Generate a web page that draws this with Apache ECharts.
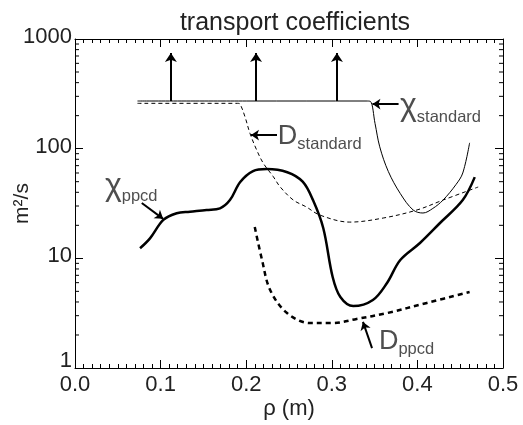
<!DOCTYPE html>
<html>
<head>
<meta charset="utf-8">
<script src="https://cdn.jsdelivr.net/npm/echarts@6/dist/echarts.min.js"></script>
<style>
html,body{margin:0;padding:0;background:#fff;}
#chart{width:523px;height:425px;}
</style>
</head>
<body>
<div id="chart"></div>
<script>
// ---- data (rho in m, coefficient in m^2/s) ----
const xTicks = [0, 0.1, 0.2, 0.3, 0.4, 0.5];
const yTicks = [1, 10, 100, 1000];
const yMinorTicks = [2,3,4,5,6,7,8,9,20,30,40,50,60,70,80,90,200,300,400,500,600,700,800,900];

const chiStandard = [
  [0.073,272],[0.2,272],[0.34,272],[0.345,270],[0.3505,170],[0.356,104],[0.366,62],
  [0.38,39],[0.395,27.6],[0.4065,25.9],[0.418,28.5],[0.43,34],[0.445,47],[0.453,60],[0.461,113]
];
const dStandard = [
  [0.073,259],[0.15,259],[0.19,259],[0.1928,255],[0.1986,195],[0.2044,138],[0.2123,97],
  [0.22,73.6],[0.2317,55.5],[0.2395,45],[0.255,34],[0.27,29.5],[0.286,24.8],[0.321,21.4],
  [0.36,23.3],[0.3995,27.6],[0.43,34],[0.471,44.7]
];
const chiPpcd = [
  [0.076,12.35],[0.0876,15.2],[0.1032,22.4],[0.1188,25.8],[0.1343,26.6],[0.1538,27.6],[0.1694,28.6],[0.181,34],
  [0.193,49.7],[0.208,62.5],[0.224,65.3],[0.248,61],[0.266,50],[0.278,34],[0.29,18.9],
  [0.301,6.76],[0.31,4.44],[0.325,3.67],[0.348,4.17],[0.3645,5.96],[0.38,9.66],
  [0.403,13.8],[0.4264,21],[0.453,34],[0.467,55]
];
const dPpcd = [
  [0.21,19.3],[0.2185,9.66],[0.228,5.14],[0.2477,3.17],[0.2745,2.57],[0.301,2.57],
  [0.329,2.8],[0.3645,3.17],[0.411,3.92],[0.461,4.93]
];
// vertical arrows above chi_standard (rho, from, to)
const upArrows = [
  [0.112, 272, 745],[0.2115, 272, 745],[0.306, 272, 745]
];
// annotation pointers: [tailRho, tailVal, tipRho, tipVal]
const pointers = [
  [0.378, 255, 0.3475, 255],
  [0.236, 133, 0.2056, 133],
  [0.078, 32, 0.103, 22.9],
  [0.347, 1.52, 0.3364, 2.63]
];
// annotation labels: [rho, value, main, subscript]
const labels = [
  [0.3797, 235, 'χ', 'standard'],
  [0.237, 125, 'D', 'standard'],
  [0.035, 44.5, 'χ', 'ppcd'],
  [0.355, 1.69, 'D', 'ppcd']
];

const FONT = 'Liberation Sans, Arial, Helvetica, sans-serif';
const TXT = '#222';

const chart = echarts.init(document.getElementById('chart'), null, {renderer:'canvas'});

const axX = (pos, showLabel) => ({
  type:'value', position:pos, min:0, max:0.5, interval:0.1,
  axisLine:{show:true, onZero:false, lineStyle:{color:'#000', width:1}},
  axisTick:{show:true, inside:true, length:8, lineStyle:{color:'#000', width:1}},
  minorTick:{show:true, splitNumber:10, length:4, lineStyle:{color:'#000', width:1}},
  splitLine:{show:false},
  axisLabel:{show:showLabel, margin:6, fontSize:22, color:TXT, fontFamily:FONT,
    formatter:v=>v.toFixed(1)},
  name: showLabel ? 'ρ (m)' : '', nameLocation:'middle', nameGap:30, nameMoveOverlap:false,
  nameTextStyle:{fontSize:22, color:TXT, fontFamily:FONT}
});
const axY = (pos, showLabel) => ({
  type:'log', logBase:10, position:pos, min:1, max:1000,
  axisLine:{show:true, onZero:false, lineStyle:{color:'#000', width:1}},
  axisTick:{show:true, inside:true, length:8, lineStyle:{color:'#000', width:1}},
  minorTick:{show:false},
  splitLine:{show:false},
  axisLabel:{show:showLabel, margin:3, fontSize:22, color:TXT, fontFamily:FONT,
    formatter:v=> (v===1 ? '{lo|1}' : '{n|'+v+'}'),
    rich:{n:{fontSize:22, color:TXT, fontFamily:FONT, padding:[0,0,4,0]},
          lo:{fontSize:22, color:TXT, fontFamily:FONT, padding:[0,0,14,0]}}},
  name: showLabel ? 'm²/s' : '', nameLocation:'middle', nameGap:42, nameRotate:90,
  nameMoveOverlap:false,
  nameTextStyle:{fontSize:21, color:TXT, fontFamily:FONT}
});

const richLabel = {
  big:{fontSize:32, fontFamily:FONT, color:TXT, lineHeight:35, verticalAlign:'top'},
  bigD:{fontSize:27, fontFamily:FONT, color:TXT, lineHeight:30, verticalAlign:'top'},
  sub:{fontSize:16.5, fontFamily:FONT, color:TXT, lineHeight:16, verticalAlign:'bottom'}
};

const option = {
  animation:false,
  backgroundColor:'#fff',
  title:{text:'transport coefficients', left:290, top:6, textAlign:'center',
    textStyle:{fontSize:25, fontWeight:'normal', color:TXT, fontFamily:FONT}},
  grid:{left:75, right:20, top:39, bottom:57, containLabel:false, outerBoundsMode:'none'},
  xAxis:[axX('bottom', true), axX('top', false)],
  yAxis:[axY('left', true), axY('right', false)],
  series:[
    {type:'line', name:'chi_standard', data:chiStandard, showSymbol:false, smooth:0.35,
     lineStyle:{color:'#000', width:1}},
    {type:'line', name:'D_standard', data:dStandard, showSymbol:false, smooth:0.35,
     lineStyle:{color:'#000', width:1, type:[4,3]}},
    {type:'line', name:'chi_ppcd', data:chiPpcd, showSymbol:false, smooth:0.35,
     lineStyle:{color:'#000', width:2.5}},
    {type:'line', name:'D_ppcd', data:dPpcd, showSymbol:false, smooth:0.35,
     lineStyle:{color:'#000', width:2.5, type:[5,4]}},
    {type:'lines', coordinateSystem:'cartesian2d', silent:true,
     symbol:['none','arrow'], symbolSize:9,
     lineStyle:{color:'#000', width:2, opacity:1},
     data: upArrows.map(a=>({coords:[[a[0],a[1]],[a[0],a[2]]]}))},
    {type:'lines', coordinateSystem:'cartesian2d', silent:true,
     symbol:['none','arrow'], symbolSize:8,
     lineStyle:{color:'#000', width:2, opacity:1},
     data: pointers.map(p=>({coords:[[p[0],p[1]],[p[2],p[3]]]}))},
    {type:'scatter', symbolSize:0, silent:true,
     data: labels.map(l=>({value:[l[0],l[1]], main:l[2], sub:l[3]})),
     label:{show:true, position:'right', distance:0,
       formatter:p=>{const d=p.data; const big = d.main==='D' ? 'bigD' : 'big';
         return '{'+big+'|'+d.main+'}{sub|'+d.sub+'}';},
       rich:richLabel}},
    {type:'custom', silent:true, clip:false,
     data: yMinorTicks.map(v=>[v]),
     encode:{y:0},
     renderItem:(params, api)=>{
       const v = api.value(0);
       const l = api.coord([0, v]);
       const r = api.coord([0.5, v]);
       const st = {stroke:'#000', lineWidth:1};
       return {type:'group', children:[
         {type:'line', shape:{x1:l[0], y1:l[1], x2:l[0]+4, y2:l[1]}, style:st},
         {type:'line', shape:{x1:r[0], y1:r[1], x2:r[0]-4, y2:r[1]}, style:st}
       ]};
     }}
  ]
};
chart.setOption(option);
</script>
</body>
</html>
